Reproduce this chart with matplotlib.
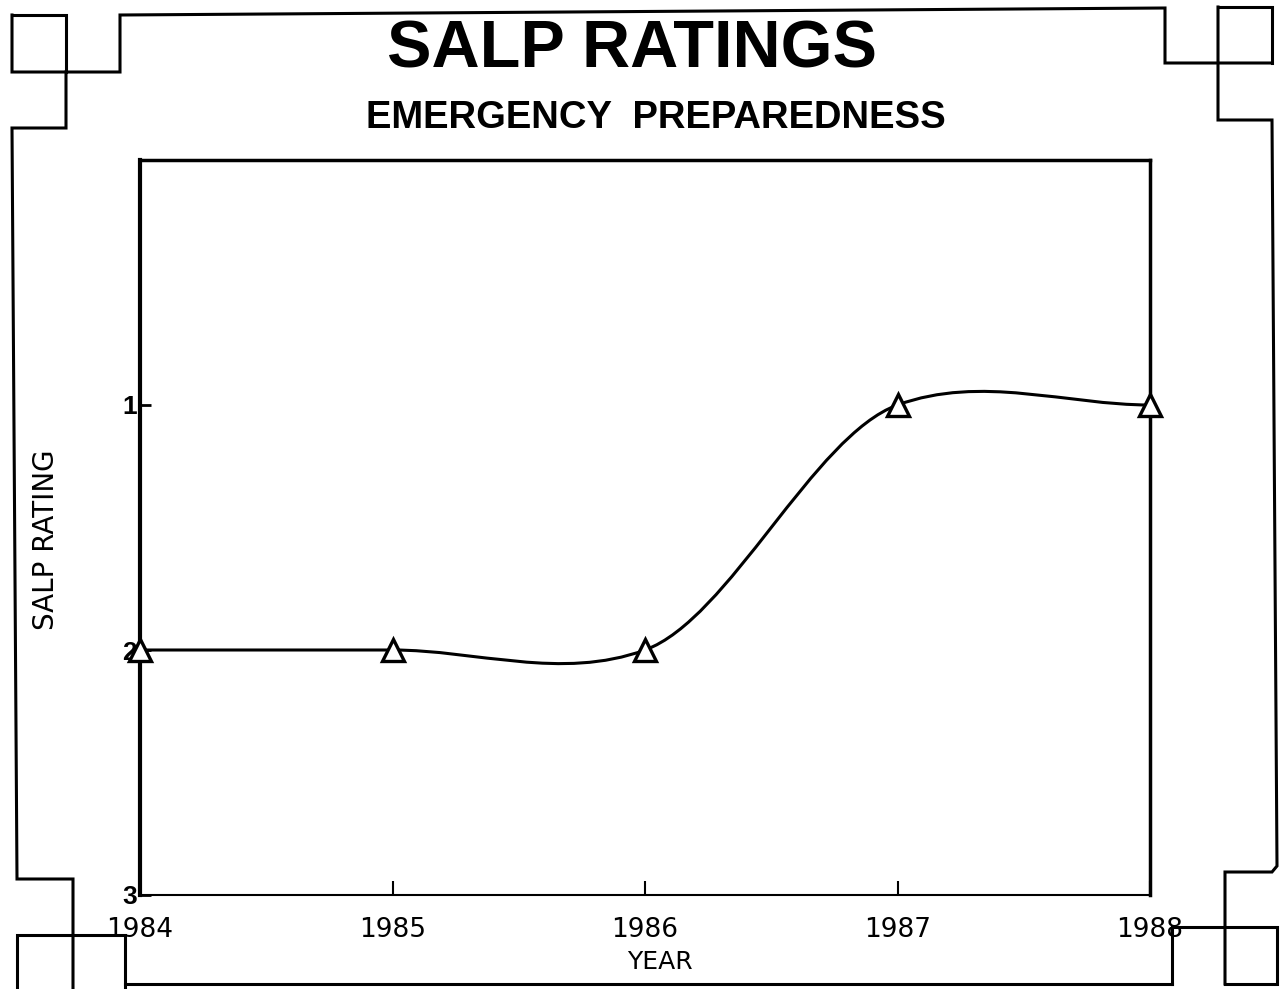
import numpy as np
import matplotlib
matplotlib.use("Agg")
import matplotlib.pyplot as plt
from matplotlib.path import Path
from matplotlib.patches import PathPatch
from matplotlib.lines import Line2D

years = [1984, 1985, 1986, 1987, 1988]
ratings = [2, 2, 2, 1, 1]
year_labels = ["1984", "1985", "1986", "1987", "1988"]
rating_ticks = [1, 2, 3]

W, H = 1284, 989
fig = plt.figure(figsize=(W / 100, H / 100), dpi=100)
fig.patch.set_facecolor("white")

ax = fig.add_axes([140 / W, 1 - 895 / H, (1150 - 140) / W, (895 - 160) / H])
ax.set_xlim(years[0], years[-1])
ax.set_ylim(3, 0)

# smooth curve through the ratings (cardinal spline as cubic beziers)
tension = 0.75
xs = np.array(years, dtype=float)
ys = np.array(ratings, dtype=float)
n = len(xs)
m = np.zeros(n)
for i in range(1, n - 1):
    m[i] = tension * (ys[i + 1] - ys[i - 1]) / (xs[i + 1] - xs[i - 1])
m[0] = tension * (ys[1] - ys[0]) / (xs[1] - xs[0])
m[-1] = tension * (ys[-1] - ys[-2]) / (xs[-1] - xs[-2])

verts = [(xs[0], ys[0])]
codes = [Path.MOVETO]
for i in range(n - 1):
    dx = xs[i + 1] - xs[i]
    verts.append((xs[i] + dx / 3, ys[i] + m[i] * dx / 3))
    verts.append((xs[i + 1] - dx / 3, ys[i + 1] - m[i + 1] * dx / 3))
    verts.append((xs[i + 1], ys[i + 1]))
    codes += [Path.CURVE4] * 3
ax.add_patch(PathPatch(Path(verts, codes), facecolor="none", edgecolor="black",
                       lw=2.2, zorder=3))
ax.plot(years, ratings, linestyle="none", marker="^", markersize=16,
        markerfacecolor="white", markeredgecolor="black", markeredgewidth=2.4,
        zorder=4, clip_on=False)

ax.set_xticks(years)
ax.set_xticklabels(year_labels, family="DejaVu Sans", fontsize=19)
ax.set_yticks(rating_ticks)
ax.set_yticklabels([str(r) for r in rating_ticks], family="Liberation Sans",
                   fontweight="bold", fontsize=19)
ax.tick_params(axis="x", direction="in", length=10, width=1.5, pad=16)
ax.tick_params(axis="y", direction="in", length=8, width=2, pad=2)

ax.spines["left"].set_linewidth(3)
ax.spines["top"].set_linewidth(2.5)
ax.spines["right"].set_linewidth(2.5)
ax.spines["bottom"].set_linewidth(1.5)

fig.text(46 / W, 1 - 540 / H, "SALP RATING", rotation=90, ha="center",
         va="center", family="DejaVu Sans", fontsize=20)
fig.text(660 / W, 1 - 962 / H, "YEAR", ha="center", va="center",
         family="DejaVu Sans", fontsize=18)

fig.text(632 / W, 1 - 68 / H, "SALP RATINGS", ha="center", va="baseline",
         family="Liberation Sans", fontweight="bold", fontsize=48)
fig.text(656 / W, 1 - 128 / H, "EMERGENCY  PREPAREDNESS", ha="center",
         va="baseline", family="Liberation Sans", fontweight="bold", fontsize=27.5)

# page frame with notched corners
frame = [
    [(12, 15), (66, 15), (66, 72)],
    [(12, 15), (12, 72), (120, 72), (120, 15), (1165, 8), (1165, 63), (1272, 63)],
    [(1218, 7), (1272, 7), (1272, 63)],
    [(1218, 7), (1218, 120), (1272, 120), (1277, 866), (1272, 872), (1225, 872),
     (1225, 984)],
    [(1172, 984), (1172, 927), (1277, 927), (1277, 984), (1225, 984)],
    [(1172, 984), (125, 984)],
    [(66, 72), (66, 128), (12, 128), (17, 879), (73, 879), (73, 989)],
    [(17, 989), (17, 935), (125, 935), (125, 989)],
]
for seg in frame:
    px = [p[0] / W for p in seg]
    py = [1 - p[1] / H for p in seg]
    fig.add_artist(Line2D(px, py, transform=fig.transFigure, color="black",
                          lw=2.2, solid_joinstyle="miter"))

fig.savefig("out.png", dpi=100, facecolor="white")
